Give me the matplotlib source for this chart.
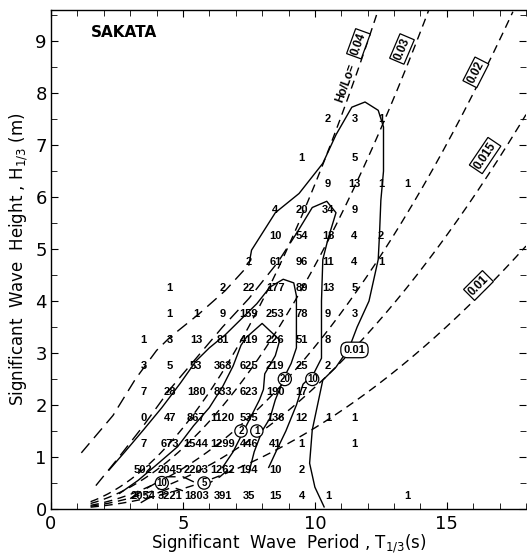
import numpy as np
import matplotlib
matplotlib.use('Agg')
import matplotlib.pyplot as plt

# wave-period bin centres (s) and wave-height bin centres (m)
periods = [3.5, 4.5, 5.5, 6.5, 7.5, 8.5, 9.5, 10.5, 11.5, 12.5, 13.5]
heights = [0.25, 0.75, 1.25, 1.75, 2.25, 2.75, 3.25, 3.75, 4.25, 4.75,
           5.25, 5.75, 6.25, 6.75, 7.5]

# occurrence counts, one row per height bin (None = empty cell)
_ = None
counts = [
    [2054, 3221, 1803, 391, 35, 15, 4, 1, _, _, 1],
    [502, 2045, 2203, 1262, 194, 10, 2, _, _, _, _],
    [7, 673, 1544, 1299, 446, 41, 1, _, 1, _, _],
    [0, 47, 867, 1120, 535, 136, 12, 1, 1, _, _],
    [7, 28, 180, 833, 623, 190, 17, _, _, _, _],
    [3, 5, 53, 363, 625, 219, 25, 2, _, _, _],
    [1, 3, 13, 81, 419, 226, 51, 8, _, _, _],
    [_, 1, 1, 9, 159, 253, 78, 9, 3, _, _],
    [_, 1, _, 2, 22, 177, 89, 13, 5, _, _],
    [_, _, _, _, 2, 61, 96, 11, 4, 1, _],
    [_, _, _, _, _, 10, 54, 18, 4, 2, _],
    [_, _, _, _, _, 4, 20, 34, 9, _, _],
    [_, _, _, _, _, _, _, 9, 13, 1, 1],
    [_, _, _, _, _, _, 1, _, 5, _, _],
    [_, _, _, _, _, _, _, 2, 3, 1, _],
]

# wave steepness H0/L0 curves and their label spots (T, H, angle)
steepness = [0.04, 0.03, 0.02, 0.015, 0.01]
steep_labels = ['0.04', '0.03', '0.02', '0.015', '0.01']
steep_label_at = [(11.65, 8.95, 70), (13.3, 8.85, 67), (16.1, 8.4, 63),
                  (16.45, 6.8, 56), (16.2, 4.3, 45)]

# traced frequency contours (T, H)
outer_solid = [(7.5, 4.7), (7.6, 4.98), (8.5, 5.7), (9.4, 6.07), (10.3, 6.65),
               (10.8, 7.2), (11.4, 7.73), (11.9, 7.83), (12.4, 7.67),
               (12.6, 7.35), (12.6, 6.5), (12.5, 5.94), (12.45, 5.3),
               (12.4, 4.8), (12.05, 4.0), (11.6, 3.5), (11.3, 3.1),
               (10.8, 2.73), (10.3, 2.48), (9.9, 1.52), (9.8, 0.88),
               (10.0, 0.42), (10.35, 0.04)]
outer_dash = [(1.15, 1.08), (2.35, 1.8), (3.2, 2.5), (4.0, 3.05), (4.5, 3.3),
              (5.6, 3.75), (6.6, 4.2), (7.5, 4.7)]
second_solid = [(9.3, 5.3), (9.9, 5.8), (10.45, 5.92), (10.8, 5.7),
                (10.5, 5.2), (10.3, 4.8), (10.25, 4.0), (10.25, 2.9),
                (9.95, 2.6), (9.55, 2.4), (9.3, 2.0), (8.9, 1.5),
                (8.55, 1.13), (8.25, 0.8)]
second_dash = [(1.7, 0.45), (2.5, 0.95), (3.5, 1.6), (4.5, 2.3), (5.5, 2.9),
               (6.5, 3.5), (7.5, 4.05), (8.6, 4.75), (9.3, 5.3)]
third_solid = [(2.2, 0.75), (2.8, 1.1), (3.5, 1.52), (4.2, 1.95), (4.9, 2.42),
               (5.5, 2.85), (6.0, 3.1), (6.6, 3.35), (7.2, 3.65), (7.8, 3.95),
               (8.3, 4.27), (8.8, 4.42), (9.2, 4.35), (9.3, 4.1), (9.3, 3.1),
               (9.1, 2.8), (8.9, 2.6), (8.5, 2.1), (8.3, 1.75), (8.0, 1.5),
               (7.7, 1.1), (7.5, 0.7)]
fourth_solid = [(2.6, 0.3), (3.3, 0.55), (4.0, 0.85), (4.8, 1.2), (5.4, 1.6),
                (6.0, 1.95), (6.5, 2.35), (6.9, 2.75), (7.2, 3.15), (7.4, 3.3),
                (8.0, 3.57), (8.67, 3.25), (8.5, 2.95), (8.1, 2.6), (8.05, 2.3),
                (7.9, 2.1), (7.6, 1.8), (7.3, 1.5), (6.9, 1.1), (6.5, 0.8)]
inner_dash = [(3.0, 0.2), (3.7, 0.42), (4.4, 0.62), (5.0, 0.62), (5.5, 0.5),
              (6.0, 0.5), (6.4, 0.62), (6.7, 0.75)]
inner_dash2 = [(3.4, 0.12), (4.0, 0.3), (4.6, 0.42), (5.0, 0.35)]

# circled contour labels (T, H, text)
circled = [(9.9, 2.5), (8.86, 2.5), (7.2, 1.5), (7.8, 1.5), (5.8, 0.5),
           (4.2, 0.5)]
circled_text = ['10', '20', '2', '1', '5', '10']

num_font = ['Liberation Sans', 'DejaVu Sans']

fig = plt.figure(figsize=(5.27, 5.54), dpi=100)
ax = fig.add_axes([51 / 527, 45 / 554, 475 / 527, 499 / 554])
ax.set_xlim(0, 18)
ax.set_ylim(0, 9.6)

# count table
for h, row in zip(heights, counts):
    for t, n in zip(periods, row):
        if n is None:
            continue
        ax.text(t, h, str(n), ha='center', va='center', fontsize=8,
                family=num_font, fontweight='bold', color='black', zorder=5)

# steepness curves H = s * g T^2 / (2 pi)
g = 9.81
T = np.linspace(1.5, 18, 300)
for s in steepness:
    H = s * g * T ** 2 / (2 * np.pi)
    m = H <= 9.6
    ax.plot(T[m], H[m], color='black', lw=1.0, ls=(0, (6, 4)), zorder=2)
for lab, (tx, hy, ang) in zip(steep_labels, steep_label_at):
    ax.text(tx, hy, lab, rotation=ang, ha='center', va='center', fontsize=8.5,
            family=num_font, fontweight='bold', zorder=6,
            bbox=dict(boxstyle='square,pad=0.15', fc='white', ec='black', lw=0.9))
ax.text(11.2, 8.2, 'Ho/Lo=', rotation=70, ha='center', va='center',
        fontsize=8.5, family=num_font, fontweight='bold', zorder=6)

# contours
for pts in [outer_solid, second_solid, third_solid, fourth_solid]:
    x, y = zip(*pts)
    ax.plot(x, y, color='black', lw=1.0, zorder=3)
for pts in [outer_dash, second_dash, inner_dash, inner_dash2]:
    x, y = zip(*pts)
    ax.plot(x, y, color='black', lw=1.0, ls=(0, (9, 5)), zorder=3)

for (tx, hy), lab in zip(circled, circled_text):
    ax.text(tx, hy, lab, ha='center', va='center', fontsize=7,
            family=num_font, fontweight='bold', zorder=6,
            bbox=dict(boxstyle='circle,pad=0.12', fc='white', ec='black', lw=0.9))
ax.text(11.5, 3.06, '0.01', ha='center', va='center', fontsize=8,
        family=num_font, fontweight='bold', zorder=6,
        bbox=dict(boxstyle='round,pad=0.25,rounding_size=0.6', fc='white',
                  ec='black', lw=0.9))

ax.text(1.5, 9.17, 'SAKATA', ha='left', va='center', fontsize=11,
        fontweight='bold')

# axes dressing
ax.set_xticks([0, 5, 10, 15])
ax.set_xticks(np.arange(0, 19, 1), minor=True)
ax.set_yticks(range(0, 10))
ax.set_yticks(np.arange(0, 9.6, 0.5), minor=True)
ax.tick_params(which='both', direction='in', top=True, right=True,
               labelsize=13)
ax.tick_params(axis='x', which='major', length=5, pad=4)
ax.tick_params(axis='y', which='major', length=5, pad=3)
ax.tick_params(which='minor', length=4)
for sp in ax.spines.values():
    sp.set_linewidth(1.0)
ax.spines['right'].set_visible(False)

ax.set_xlabel(r'Significant  Wave  Period , T$_{1/3}$(s)', fontsize=12,
              labelpad=0)
ax.set_ylabel(r'Significant  Wave  Height , H$_{1/3}$ (m)', fontsize=12,
              labelpad=4)

fig.savefig('out.png', dpi=100)
